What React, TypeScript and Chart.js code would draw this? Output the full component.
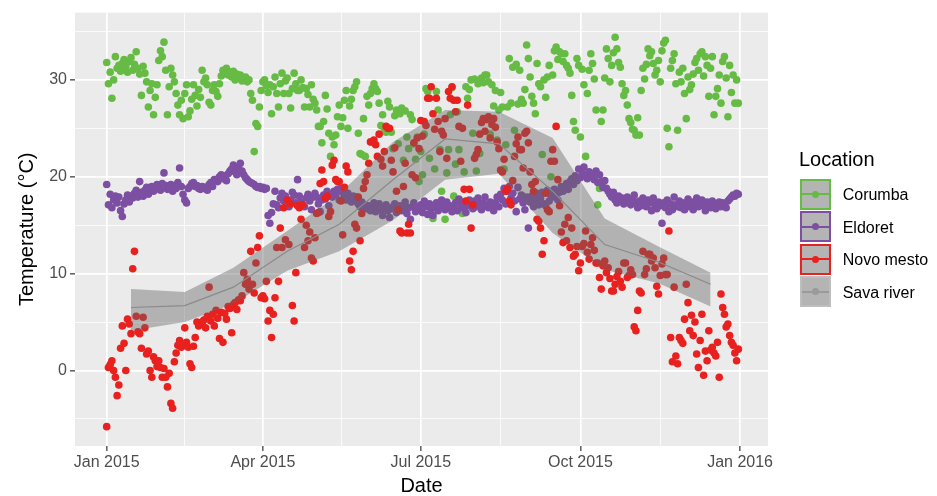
import React, { useEffect, useRef } from 'react';
import { Chart, registerables } from 'chart.js';

Chart.register(...registerables);

// ---------- axis ticks ----------
const xMajorDays = [0, 90, 181, 273, 365];
const xMajorLabels = ['Jan 2015', 'Apr 2015', 'Jul 2015', 'Oct 2015', 'Jan 2016'];
const xMinorDays = [45, 135.5, 227, 319];
const yMajor = [0, 10, 20, 30];
const yMinor = [-5, 5, 15, 25, 35];

// ---------- daily temperatures, 2015 (index = day of year, 0 = 1 Jan) ----------
const corumba = [
  31.8, 29.6, 30.8, 28.1, 30.0, 32.4, 31.2, 31.5, 30.9, 31.7,
  32.1, 31.4, 30.8, 31.9, 32.3, 31.0, 31.6, 32.9, 31.2, 30.6,
  28.4, 31.4, 30.7, 29.8, 27.2, 28.9, 29.6, 26.4, 28.2, 29.5,
  32.0, 33.0, 32.4, 33.9, 31.0, 26.4, 29.3, 31.2, 30.5, 29.8,
  28.6, 27.4, 26.4, 27.9, 26.0, 28.6, 29.5, 26.2, 26.8, 28.0,
  29.5, 28.4, 27.3, 29.0, 28.2, 31.0, 29.8, 30.2, 29.5, 27.7,
  27.4, 28.9, 29.5, 28.8, 28.3, 29.6, 30.4, 31.0, 30.7, 31.2,
  30.5, 30.8, 30.3, 30.9, 30.0, 30.6, 30.2, 30.5, 29.9, 30.1,
  30.3, 29.8, 30.0, 28.6, 27.9, 22.6, 25.5, 25.2, 27.2, 28.9,
  29.8, 30.0, 29.4, 28.7, 29.5, 26.5, 29.3, 30.3, 28.6, 27.2,
  29.6, 30.7, 28.6, 29.9, 30.2, 28.6, 27.1, 29.1, 30.7, 29.6,
  28.9, 28.9, 30.0, 29.2, 27.2, 29.1, 28.5, 27.2, 29.5, 28.0,
  27.6, 26.9, 25.2, 25.2, 23.5, 25.7, 28.4, 27.0, 24.5, 22.1,
  24.1, 23.3, 24.3, 26.2, 27.4, 25.2, 26.1, 27.9, 28.9, 25.0,
  27.3, 28.0, 28.9, 29.3, 29.8, 24.5, 22.4, 22.3, 26.0, 22.1,
  28.3, 27.4, 28.6, 29.1, 29.6, 29.1, 28.8, 27.6, 25.3, 26.4,
  25.0, 24.6, 27.8, 27.2, 24.6, 22.9, 26.3, 26.9, 23.4, 26.5,
  27.1, 21.7, 26.8, 24.1, 22.9, 26.4, 25.9, 23.4, 21.8, 24.1,
  19.5, 22.6, 20.2, 24.4, 29.1, 28.8, 21.9, 16.6, 15.7, 20.8,
  28.8, 26.9, 22.8, 18.5, 17.1, 15.6, 20.4, 22.8, 26.4, 29.2,
  18.0, 21.3, 26.7, 22.8, 17.2, 16.2, 20.5, 29.3, 28.1, 29.0,
  30.0, 24.5, 30.1, 20.6, 29.6, 22.4, 30.2, 29.7, 30.5, 30.5,
  29.8, 24.4, 29.5, 27.3, 28.9, 23.8, 26.9, 28.7, 27.2, 20.8,
  23.3, 27.2, 32.2, 27.6, 31.3, 24.8, 31.6, 27.5, 31.0, 28.0,
  27.6, 29.0, 33.6, 32.2, 30.3, 28.3, 27.6, 26.5, 31.7, 29.6,
  29.3, 22.3, 30.0, 28.2, 30.3, 31.5, 20.0, 30.5, 33.0, 33.4,
  32.1, 32.9, 32.7, 31.9, 32.7, 31.5, 31.2, 30.7, 28.4, 25.7,
  24.8, 32.2, 31.5, 24.1, 31.1, 29.5, 22.1, 28.6, 31.0, 32.7,
  31.7, 30.1, 26.9, 17.1, 18.8, 25.7, 26.9, 30.2, 33.2, 32.2,
  29.8, 31.5, 32.8, 34.4, 33.2, 31.8, 31.3, 29.6, 28.4, 28.9,
  27.4, 26.0, 25.6, 24.9, 24.8, 24.3, 26.1, 24.3, 28.9, 31.2,
  30.1, 31.6, 33.2, 32.5, 32.9, 31.7, 30.5, 31.0, 32.0, 29.8,
  33.0, 33.8, 34.1, 25.0, 23.1, 31.2, 32.0, 32.7, 29.6, 24.8,
  30.8, 29.8, 31.2, 28.6, 26.0, 30.3, 29.0, 29.5, 30.6, 31.8,
  32.2, 31.0, 32.7, 32.9, 30.4, 32.4, 31.5, 28.3, 31.2, 32.4,
  26.4, 28.3, 29.1, 30.5, 27.6, 31.9, 32.4, 30.2, 26.2, 31.5,
  28.7, 30.5, 27.6, 30.0, 27.6,
];

const eldoret = [
  19.2, 17.1, 18.2, 16.8, 17.6, 18.0, 17.3, 17.9, 16.5, 15.9,
  17.2, 17.6, 18.1, 17.4, 18.0, 17.8, 18.3, 18.6, 17.9, 19.5,
  18.4, 18.0, 18.6, 18.9, 18.2, 18.8, 19.0, 18.5, 18.7, 19.2,
  19.0, 18.6, 19.3, 20.4, 19.1, 18.7, 18.9, 19.2, 18.5, 19.0,
  18.8, 19.4, 20.9, 19.0, 18.2, 17.6, 17.3, 18.8, 19.0, 19.3,
  19.4, 19.0, 19.1, 18.8, 18.7, 19.0, 18.8, 18.9, 18.6, 19.2,
  19.4, 19.0, 19.7, 19.7, 19.5, 20.0, 20.2, 19.8, 20.1, 19.6,
  20.3, 20.6, 20.8, 21.2, 20.5, 20.2, 21.0, 21.4, 20.6, 20.2,
  19.9, 19.7, 19.5, 19.4, 19.3, 19.2, 19.0, 18.9, 19.0, 18.8,
  18.9, 18.7, 18.8, 16.0, 15.2, 16.3, 17.2, 18.5, 17.1, 16.8,
  17.8, 18.3, 17.5, 18.0, 17.2, 16.9, 17.6, 18.4, 18.1, 17.3,
  19.7, 18.0, 17.4, 17.0, 16.9, 17.8, 18.2, 17.5, 16.6, 17.9,
  18.3, 17.9, 17.2, 16.4, 17.6, 18.1, 17.7, 18.5, 17.0, 18.0,
  17.9, 18.5, 18.2, 18.7, 17.6, 18.8, 18.4, 18.1, 17.6, 18.3,
  17.9, 17.4, 18.0, 17.5, 17.9, 17.2, 16.9, 17.4, 16.8, 17.1,
  16.7, 17.0, 16.5, 16.9, 17.3, 16.4, 16.9, 17.2, 16.6, 16.0,
  16.8, 17.1, 16.5, 15.8, 16.7, 16.9, 17.2, 16.3, 16.6, 17.0,
  16.5, 16.9, 17.4, 16.2, 16.8, 15.6, 16.9, 17.3, 16.4, 16.6,
  16.8, 17.1, 16.3, 17.5, 16.9, 16.1, 17.2, 16.7, 16.0, 16.9,
  17.3, 16.5, 16.9, 17.6, 17.1, 16.6, 17.4, 16.8, 17.0, 16.4,
  16.9, 17.3, 16.5, 17.7, 17.2, 16.8, 17.4, 16.3, 17.0, 17.6,
  17.1, 16.7, 17.5, 16.9, 17.8, 17.2, 16.6, 17.3, 17.9, 17.0,
  16.8, 17.4, 17.0, 16.5, 17.3, 17.9, 16.9, 18.2, 17.6, 18.8,
  17.2, 18.5, 19.0, 17.8, 18.3, 17.5, 16.4, 18.9, 17.7, 18.1,
  17.3, 16.6, 17.9, 14.7, 17.4, 18.0, 16.9, 17.6, 18.3, 17.1,
  17.8, 18.4, 17.2, 17.0, 18.6, 17.5, 18.1, 17.9, 18.7, 18.2,
  17.6, 18.4, 19.0, 18.5, 18.9, 19.3, 18.7, 19.5, 19.8, 19.2,
  20.1, 19.6, 20.8, 19.9, 20.4, 21.0, 20.2, 19.8, 20.5, 20.0,
  20.3, 19.7, 20.6, 19.4, 20.2, 19.5, 18.9, 19.6, 18.8, 18.5,
  18.2, 17.9, 18.4, 17.6, 17.3, 18.0, 17.5, 17.8, 17.2, 17.6,
  17.9, 17.4, 17.1, 17.7, 18.1, 17.3, 16.8, 17.5, 17.0, 17.8,
  17.2, 16.9, 17.6, 17.3, 16.5, 17.8, 17.1, 16.7, 17.4, 17.0,
  15.2, 17.3, 16.8, 17.6, 16.4, 17.2, 16.6, 17.9, 17.1, 16.9,
  17.5, 16.8, 17.3, 16.6, 17.0, 17.7, 16.9, 17.4, 16.6, 17.2,
  17.8, 16.9, 17.3, 17.6, 17.0, 16.5, 17.4, 17.1, 16.8, 17.5,
  17.2, 16.7, 17.0, 17.4, 16.9, 17.3, 17.1, 16.8, 17.5, 17.7,
  17.9, 18.1, 18.0, 18.3, 18.2,
];

const novoMesto = [
  -5.8, 0.3, 0.6, 1.0, 0.0, -0.7, -2.6, -1.5, 2.3, 4.6,
  2.8, 0.0, 5.3, 4.8, 3.8, 10.5, 12.3, 5.6, 4.0, 3.8,
  2.3, 5.5, 4.4, 1.7, 2.0, 0.0, -0.7, 1.4, 1.0, 0.4,
  1.0, 0.3, -0.7, 0.2, -0.7, -1.7, -0.3, -3.4, -3.9, 0.9,
  1.8, 2.6, 3.1, 2.4, 2.7, 4.4, 2.9, 2.4, 0.7, 0.3,
  2.5, 3.4, 5.0, 4.6, 4.9, 5.0, 5.2, 4.4, 5.6, 8.6,
  5.1, 5.8, 4.6, 6.2, 5.4, 3.3, 6.0, 2.9, 5.9, 5.3,
  6.6, 6.4, 3.9, 6.8, 7.0, 6.3, 7.3, 7.2, 7.7, 10.1,
  8.9, 9.4, 8.4, 12.3, 8.9, 8.0, 11.1, 12.7, 13.9, 7.5,
  7.7, 7.4, 9.2, 5.1, 6.2, 3.4, 5.8, 7.5, 12.7, 9.2,
  14.7, 12.7, 16.8, 13.5, 17.6, 13.0, 17.2, 6.7, 5.1, 10.1,
  17.0, 16.8, 15.6, 17.1, 12.7, 15.0, 13.4, 14.3, 11.6, 11.3,
  13.7, 16.2, 16.3, 19.3, 20.7, 19.5, 17.8, 18.0, 15.9, 16.4,
  21.2, 21.7, 19.7, 19.5, 19.5, 17.5, 14.0, 18.9, 21.1, 20.5,
  11.3, 10.4, 12.3, 15.1, 14.7, 17.9, 13.4, 16.2, 18.8, 19.5,
  20.2, 21.4, 23.6, 23.6, 23.8, 23.3, 22.1, 24.4, 21.8, 21.1,
  22.6, 25.2, 25.0, 25.0, 21.7, 20.5, 23.0, 18.5, 16.6, 14.4,
  14.2, 19.0, 21.4, 14.2, 15.1, 14.2, 20.2, 23.5, 19.9, 24.0,
  22.9, 25.8, 24.2, 25.7, 25.3, 28.1, 28.1, 29.3, 26.5, 24.9,
  28.1, 25.7, 22.6, 24.7, 24.3, 26.0, 21.9, 28.8, 28.1, 29.3,
  27.9, 26.7, 27.9, 25.2, 21.6, 25.0, 18.7, 17.5, 27.4, 18.7,
  14.7, 17.1, 21.9, 22.3, 22.8, 24.4, 25.6, 26.0, 24.7, 25.9,
  26.2, 24.0, 25.4, 26.0, 25.1, 23.6, 22.9, 20.7, 20.5, 21.8,
  18.5, 18.8, 17.5, 17.1, 19.6, 22.1, 23.4, 24.1, 22.8, 22.8,
  20.9, 24.5, 24.7, 23.5, 20.5, 19.2, 18.5, 19.5, 15.6, 15.4,
  14.7, 12.0, 13.4, 18.3, 16.6, 16.4, 21.6, 22.8, 21.6, 25.2,
  19.7, 17.0, 14.3, 13.2, 15.1, 13.4, 15.8, 12.7, 14.7, 11.8,
  12.0, 12.8, 10.3, 11.1, 12.8, 13.1, 14.4, 12.2, 11.5, 13.0,
  13.7, 12.4, 11.1, 11.1, 9.6, 8.4, 10.8, 11.3, 10.1, 10.6,
  9.5, 8.2, 8.2, 8.9, 9.7, 10.2, 9.2, 8.6, 11.1, 11.1,
  9.6, 9.8, 10.4, 9.9, 4.5, 4.1, 6.2, 8.2, 8.0, 12.3,
  9.9, 10.5, 12.0, 12.0, 11.3, 11.6, 10.6, 8.7, 7.9, 9.8,
  11.0, 11.6, 9.9, 9.9, 14.4, 3.4, 0.9, 8.6, 1.5, 0.7,
  3.4, 3.1, 2.8, 5.3, 8.9, 7.0, 4.1, 5.7, 3.6, 5.0,
  1.7, 0.3, 3.1, 5.8, -0.5, 2.0, 1.0, 4.1, 2.1, 2.4,
  1.8, 1.5, 2.9, -0.7, 7.9, 6.5, 5.8, 4.5, 4.8, 3.6,
  2.9, 2.6, 1.8, 1.0, 2.2,
];

// ---------- Sava river: monthly mean with band ----------
const savaMonths = ['15 Jan', '15 Feb', '15 Mar', '15 Apr', '15 May', '15 Jun', '15 Jul', '15 Aug', '15 Sep', '15 Oct', '15 Nov', '15 Dec'];
const savaDays = [14, 45, 73, 104, 134, 165, 195, 226, 257, 287, 318, 348];
const savaMean = [6.5, 6.7, 8.6, 12.3, 15.1, 19.7, 23.9, 23.4, 18.5, 13.0, 11.2, 8.9];
const savaUpper = [8.4, 8.1, 10.6, 14.4, 18.2, 23.6, 26.9, 26.7, 24.0, 15.7, 12.8, 10.1];
const savaLower = [4.1, 5.0, 6.9, 10.3, 12.3, 15.5, 19.7, 20.3, 14.2, 10.4, 9.0, 6.6];

const GREEN = '#66BB44';
const PURPLE = '#7D4FA2';
const RED = '#E8201E';
const RIBBON = 'rgba(100,100,100,0.42)';
const SAVA_LINE = '#8A8A8A';
const FONT = '"Liberation Sans", Arial, Helvetica, sans-serif';
const POINT_R = 3.8;

const legendItems = [
  { label: 'Corumba', color: GREEN, border: GREEN },
  { label: 'Eldoret', color: PURPLE, border: PURPLE },
  { label: 'Novo mesto', color: RED, border: RED },
  { label: 'Sava river', color: '#9A9A9A', border: '#BDBDBD' },
];

const toPoints = (vals: number[]) => vals.map((v, i) => ({ x: i, y: v }));

const panelBg = {
  id: 'panelBg',
  beforeDraw(chart: any) {
    const { ctx, chartArea: a } = chart;
    ctx.save();
    ctx.fillStyle = '#FFFFFF';
    ctx.fillRect(0, 0, chart.width, chart.height);
    ctx.fillStyle = '#EBEBEB';
    ctx.fillRect(a.left, a.top, a.right - a.left, a.bottom - a.top);
    ctx.restore();
  },
};

const axisTitles = {
  id: 'axisTitles',
  afterDraw(chart: any) {
    const { ctx, chartArea: a } = chart;
    ctx.save();
    ctx.fillStyle = '#000000';
    ctx.font = `20px ${FONT}`;
    ctx.textAlign = 'center';
    ctx.textBaseline = 'alphabetic';
    ctx.fillText('Date', (a.left + a.right) / 2, a.bottom + 45.5);
    ctx.translate(a.left - 41.7, (a.top + a.bottom) / 2);
    ctx.rotate(-Math.PI / 2);
    ctx.fillText('Temperature (°C)', 0, 0);
    ctx.restore();
  },
};

export default function App() {
  const canvasRef = useRef<HTMLCanvasElement | null>(null);

  useEffect(() => {
    if (!canvasRef.current) return;
    const isXMajor = (v: number) => xMajorDays.includes(v);
    const isYMajor = (v: number) => yMajor.includes(v);

    const chart = new Chart(canvasRef.current, {
      type: 'scatter',
      data: {
        datasets: [
          {
            type: 'line',
            label: 'Sava river',
            data: savaDays.map((d, i) => ({ x: d, y: savaMean[i] })),
            borderColor: SAVA_LINE,
            borderWidth: 1.2,
            pointRadius: 0,
            showLine: true,
            tension: 0,
            fill: false,
            order: 0,
          } as any,
          {
            type: 'line',
            label: 'Sava upper',
            data: savaDays.map((d, i) => ({ x: d, y: savaUpper[i] })),
            borderColor: 'rgba(0,0,0,0)',
            borderWidth: 0,
            backgroundColor: RIBBON,
            pointRadius: 0,
            showLine: true,
            tension: 0,
            fill: '+1',
            order: 1,
          } as any,
          {
            type: 'line',
            label: 'Sava lower',
            data: savaDays.map((d, i) => ({ x: d, y: savaLower[i] })),
            borderColor: 'rgba(0,0,0,0)',
            borderWidth: 0,
            pointRadius: 0,
            showLine: true,
            tension: 0,
            fill: false,
            order: 1,
          } as any,
          {
            label: 'Novo mesto',
            data: toPoints(novoMesto),
            backgroundColor: RED,
            borderWidth: 0,
            pointRadius: POINT_R,
            order: 2,
          },
          {
            label: 'Eldoret',
            data: toPoints(eldoret),
            backgroundColor: PURPLE,
            borderWidth: 0,
            pointRadius: POINT_R,
            order: 3,
          },
          {
            label: 'Corumba',
            data: toPoints(corumba),
            backgroundColor: GREEN,
            borderWidth: 0,
            pointRadius: POINT_R,
            order: 4,
          },
        ],
      },
      options: {
        animation: false,
        responsive: false,
        maintainAspectRatio: false,
        layout: { padding: { left: 0, top: 10, right: 169, bottom: 0 } },
        plugins: { legend: { display: false }, tooltip: { enabled: false } },
        scales: {
          x: {
            type: 'linear',
            min: -18.27,
            max: 381.1,
            afterFit: (s: any) => { s.height = 50; },
            afterBuildTicks: (s: any) => {
              s.ticks = [...xMajorDays, ...xMinorDays].sort((a, b) => a - b).map((v) => ({ value: v }));
            },
            ticks: {
              autoSkip: false,
              maxRotation: 0,
              minRotation: 0,
              padding: 1.5,
              color: '#4D4D4D',
              font: { family: FONT, size: 16 },
              callback: (v: any) => {
                const i = xMajorDays.indexOf(Number(v));
                return i >= 0 ? xMajorLabels[i] : '';
              },
            },
            grid: {
              color: '#FFFFFF',
              lineWidth: (c: any) => (c.tick && isXMajor(c.tick.value) ? 1.7 : 0.8),
              tickColor: (c: any) => (c.tick && isXMajor(c.tick.value) ? '#333333' : 'rgba(0,0,0,0)'),
              tickLength: 5,
              tickWidth: 1.2,
              drawTicks: true,
            },
            border: { display: false },
          } as any,
          y: {
            type: 'linear',
            min: -7.8,
            max: 36.95,
            afterFit: (s: any) => { s.width = 75; },
            afterBuildTicks: (s: any) => {
              s.ticks = [...yMajor, ...yMinor].sort((a, b) => a - b).map((v) => ({ value: v }));
            },
            ticks: {
              autoSkip: false,
              padding: 3,
              color: '#4D4D4D',
              font: { family: FONT, size: 16 },
              callback: (v: any) => (isYMajor(Number(v)) ? String(v) : ''),
            },
            grid: {
              color: '#FFFFFF',
              lineWidth: (c: any) => (c.tick && isYMajor(c.tick.value) ? 1.7 : 0.8),
              tickColor: (c: any) => (c.tick && isYMajor(c.tick.value) ? '#333333' : 'rgba(0,0,0,0)'),
              tickLength: 5,
              tickWidth: 1.2,
              drawTicks: true,
            },
            border: { display: false },
          } as any,
        },
      },
      plugins: [panelBg, axisTitles],
    });
    return () => chart.destroy();
  }, []);

  const keyTops = [178.8, 211.3, 243.8, 276.3];

  return (
    <div style={{ position: 'absolute', left: 0, top: 0, width: 937, height: 496, background: '#FFFFFF', fontFamily: FONT }}>
      <canvas ref={canvasRef} width={937} height={496} style={{ position: 'absolute', left: 0, top: 0, width: 937, height: 496 }} />
      <div style={{ position: 'absolute', left: 799, top: 147, fontSize: 20, lineHeight: '24px', color: '#000000', whiteSpace: 'nowrap' }}>
        Location
      </div>
      {legendItems.map((it, i) => (
        <React.Fragment key={it.label}>
          <div
            style={{
              position: 'absolute',
              left: 800,
              top: keyTops[i],
              width: 31,
              height: 31,
              boxSizing: 'border-box',
              border: `2px solid ${it.border}`,
              background: '#B4B4B4',
            }}
          >
            <div style={{ position: 'absolute', left: 0, right: 0, top: 12.5, height: 2, background: it.color }} />
            <div style={{ position: 'absolute', left: 10, top: 10, width: 7, height: 7, borderRadius: '50%', background: it.color }} />
          </div>
          <div
            style={{
              position: 'absolute',
              left: 842.7,
              top: keyTops[i] + 1,
              height: 31,
              display: 'flex',
              alignItems: 'center',
              fontSize: 16,
              color: '#000000',
              whiteSpace: 'nowrap',
            }}
          >
            {it.label}
          </div>
        </React.Fragment>
      ))}
    </div>
  );
}
